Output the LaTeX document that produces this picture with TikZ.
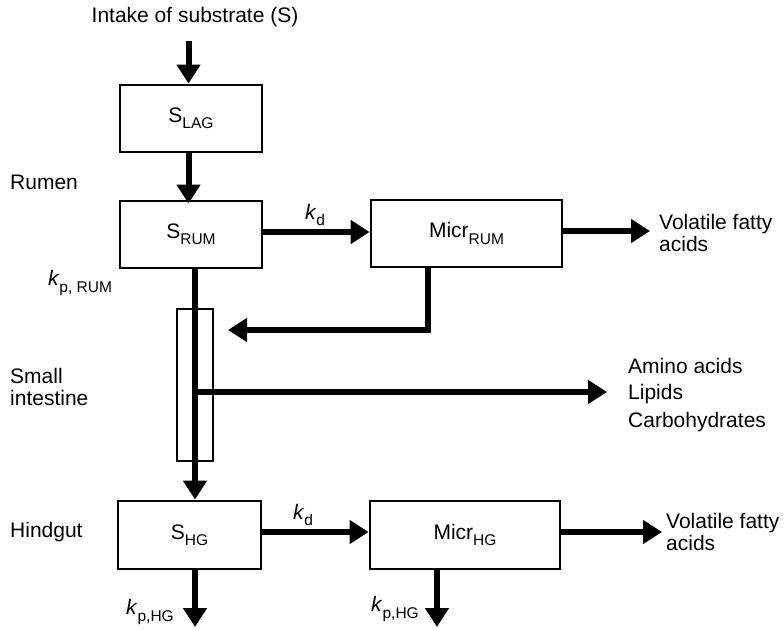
\documentclass[tikz,border=0pt]{standalone}
\usepackage{fontspec}
\setmainfont{Liberation Sans}
\usetikzlibrary{arrows.meta}
\newcommand\lowsub[1]{\raisebox{-0.3em}{\fontsize{15.5}{16}\selectfont #1}}
\begin{document}
\begin{tikzpicture}[x=1pt,y=-1pt,
  every node/.style={font=\fontsize{21}{22}\selectfont, inner sep=0pt},
  box/.style={draw, line width=2.8pt, minimum height=67pt, inner sep=0pt},
  flow/.style={line width=6pt, line join=miter, -{Triangle[length=19pt,width=23pt]}},
  lbl/.style={align=left, anchor=west}
]
\useasboundingbox (0,0) rectangle (784,629);

% boxes
\node[box, minimum width=142pt] (slag) at (191,118.5) {S\lowsub{LAG}};
\node[box, minimum width=142pt] (srum) at (191,234.5) {S\lowsub{RUM}};
\node[box, minimum width=191pt] (micrrum) at (466.5,233.5) {Micr\lowsub{RUM}};
\node[draw, line width=2pt, minimum width=36pt, minimum height=152pt] (si) at (195,385) {};
\node[box, minimum width=143pt, minimum height=68pt] (shg) at (189.5,535) {S\lowsub{HG}};
\node[box, minimum width=190pt, minimum height=68pt] (micrhg) at (465,535) {Micr\lowsub{HG}};

% labels
\node (intake) at (195,17) {Intake of substrate (S)};
\node[lbl] (rumen) at (10,182) {Rumen};
\node (kprum) at (80,283) {\textit{k}\lowsub{p, RUM}};
\node (kdrum) at (315,215) {\textit{k}\lowsub{d}};
\node[lbl] (vfa1) at (659,233) {Volatile fatty\\acids};
\node[lbl] (smallint) at (10,387) {Small\\intestine};
\node[lbl] (amino) at (628,366) {Amino acids};
\node[lbl] (lipids) at (628,394) {Lipids};
\node[lbl] (carbo) at (628,422) {Carbohydrates};
\node[lbl] (hindgut) at (10,532) {Hindgut};
\node (kdhg) at (303,515) {\textit{k}\lowsub{d}};
\node (kphg1) at (150,612) {\textit{k}\lowsub{p,HG}};
\node (kphg2) at (395,609) {\textit{k}\lowsub{p,HG}};
\node[lbl] (vfa2) at (666,532) {Volatile fatty\\acids};

% coordinates
\coordinate (instart) at (188.5,41);
\coordinate (fb) at (428,330);
\coordinate (fbtip) at (228,330);
\coordinate (junc) at (195,392);
\coordinate (nuttip) at (607,392);
\coordinate (vfa1tip) at (650,231);
\coordinate (vfa2tip) at (662,532);
\coordinate (out1) at (195,627);
\coordinate (out2) at (437,627);

% connectors
\draw[flow] (instart) -- (instart |- slag.north);
\draw[flow] (slag.south -| instart) -- ([yshift=-4pt]srum.north -| instart);
\draw[flow] (srum.east |- 0,232) -- (micrrum.west |- 0,232);
\draw[flow] (micrrum.east |- vfa1tip) -- (vfa1tip);
\draw[flow] (micrrum.south -| fb) -- (fb) -- (fbtip);
\draw[flow] (srum.south -| si.center) -- (shg.north -| si.center);
\draw[flow] (junc) -- (nuttip);
\draw[flow] (shg.east |- 0,532) -- (micrhg.west |- 0,532);
\draw[flow] (micrhg.east |- vfa2tip) -- (vfa2tip);
\draw[flow] (shg.south -| out1) -- (out1);
\draw[flow] (micrhg.south -| out2) -- (out2);
\end{tikzpicture}
\end{document}
